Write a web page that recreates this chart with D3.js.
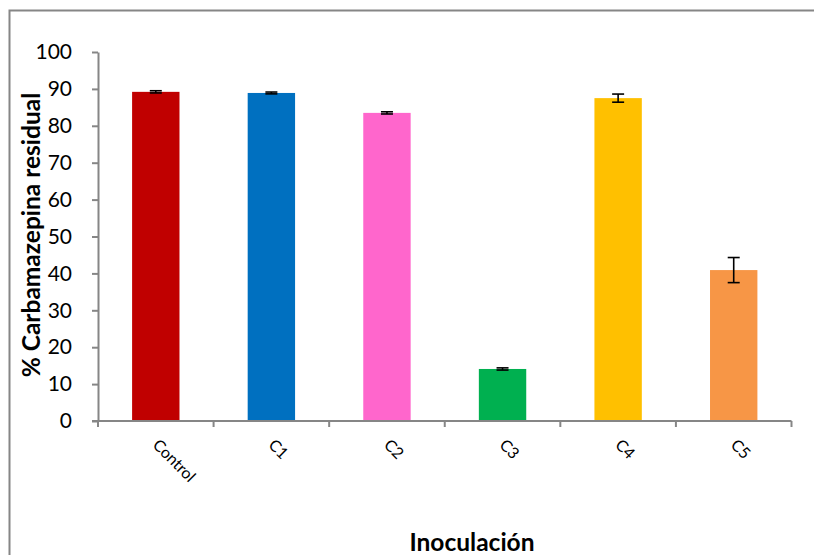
<!DOCTYPE html>
<html><head><meta charset="utf-8">
<script src="https://cdn.jsdelivr.net/npm/d3@7"></script>
<style>html,body{margin:0;background:#fff;overflow:hidden}svg{display:block}</style>
</head><body>
<script>
const categories = ["Control","C1","C2","C3","C4","C5"];
const values = [89.2, 88.9, 83.5, 14.1, 87.5, 40.9];
const errors = [0.3, 0.25, 0.3, 0.3, 1.1, 3.4];
const colors = ["#C00000","#0070C0","#FF66CC","#00B050","#FFC000","#F79646"];
const yTicks = [0,10,20,30,40,50,60,70,80,90,100];
const yTitle = "% Carbamazepina residual";
const xTitle = "Inoculación";

const W = 814, H = 555;
const svg = d3.select("body").append("svg").attr("width", W + 20).attr("height", H);
const font = "Lato, 'Open Sans', sans-serif";

svg.append("rect").attr("width", W + 20).attr("height", H).attr("fill", "#fff");
svg.append("path").attr("d", `M9.5,${H+5}V10.5H${W+20}`)
  .attr("fill", "none").attr("stroke", "#868686").attr("stroke-width", 2);

const x0 = 98, x1 = 791.5, yTop = 52, yBot = 421;
const x = d3.scaleBand().domain(categories).range([x0, x1]).paddingInner(0.59).paddingOuter(0.295);
const y = d3.scaleLinear().domain([0, 100]).range([yBot, yTop]);

// bars
svg.selectAll("rect.bar").data(categories).join("rect").attr("class","bar")
  .attr("x", d => x(d)).attr("width", x.bandwidth())
  .attr("y", (d,i) => y(values[i])).attr("height", (d,i) => y(0) - y(values[i]))
  .attr("fill", (d,i) => colors[i]);

// error bars
const eb = svg.append("g").attr("stroke", "#000").attr("stroke-width", 1.6);
categories.forEach((c,i) => {
  const cx = x(c) + x.bandwidth()/2;
  const hi = y(values[i] + errors[i]), lo = y(values[i] - errors[i]);
  eb.append("line").attr("x1", cx).attr("x2", cx).attr("y1", hi).attr("y2", lo);
  eb.append("line").attr("x1", cx-6).attr("x2", cx+6).attr("y1", hi).attr("y2", hi);
  eb.append("line").attr("x1", cx-6).attr("x2", cx+6).attr("y1", lo).attr("y2", lo);
});

// y axis
const yAxis = svg.append("g").attr("transform", `translate(${x0},0)`)
  .call(d3.axisLeft(y).tickValues(yTicks).tickSize(6).tickPadding(20).tickSizeOuter(0));
yAxis.select(".domain").attr("stroke", "#868686").attr("stroke-width", 2);
yAxis.selectAll(".tick line").attr("stroke", "#868686").attr("stroke-width", 2);
yAxis.selectAll(".tick text").attr("font-family", font).attr("font-size", 21).attr("fill", "#000");

// x axis
const bounds = d3.range(categories.length + 1).map(i => x0 + (x1 - x0) * i / categories.length);
const xa = svg.append("g");
xa.append("line").attr("x1", x0-6).attr("x2", x1).attr("y1", yBot).attr("y2", yBot)
  .attr("stroke", "#868686").attr("stroke-width", 2);
xa.selectAll("line.t").data(bounds).join("line").attr("class","t")
  .attr("x1", d => d).attr("x2", d => d).attr("y1", yBot).attr("y2", yBot + 6)
  .attr("stroke", "#868686").attr("stroke-width", 2);
xa.selectAll("text").data(categories).join("text")
  .attr("transform", d => `translate(${x(d) + x.bandwidth()/2 - 4},${yBot + 25}) rotate(45)`)
  .attr("font-family", font).attr("font-size", 16).attr("fill", "#000")
  .text(d => d);

// titles
svg.append("text").attr("transform", `translate(40,235) rotate(-90)`)
  .attr("text-anchor", "middle").attr("font-family", font).attr("font-weight", "bold")
  .attr("font-size", 24.5).text(yTitle);
svg.append("text").attr("x", 472).attr("y", 551).attr("text-anchor", "middle")
  .attr("font-family", font).attr("font-weight", "bold").attr("font-size", 24.5).text(xTitle);
</script>
</body></html>
